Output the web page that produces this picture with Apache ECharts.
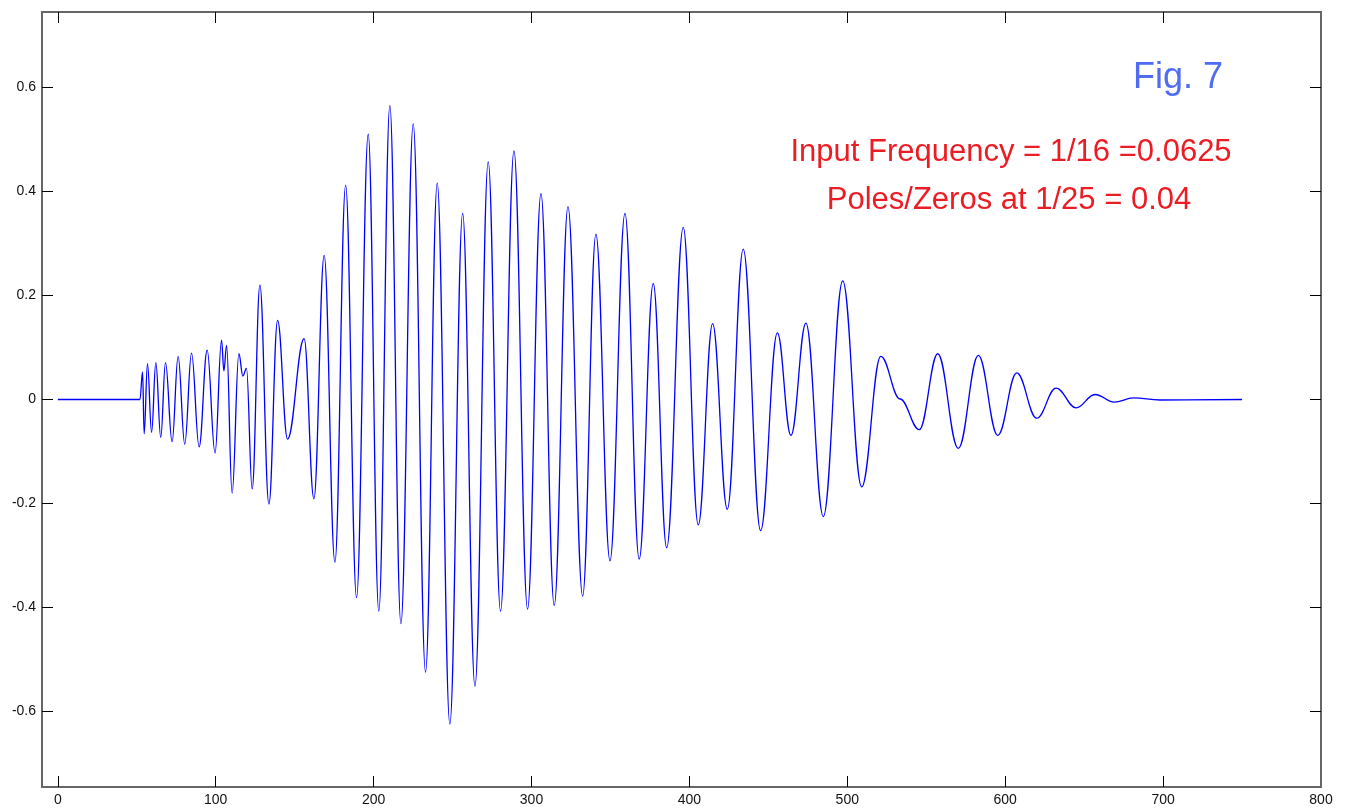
<!DOCTYPE html>
<html>
<head>
<meta charset="utf-8">
<script src="https://cdn.jsdelivr.net/npm/echarts@6/dist/echarts.min.js"></script>
<style>
html,body{margin:0;padding:0;background:#fff;}
#chart{width:1346px;height:808px;}
</style>
</head>
<body>
<div id="chart"></div>
<script>
// Sample index (x) and amplitude (y) of the waveform's turning points
const sampleX = [0, 52, 53.7, 54.7, 56.8, 59.4, 62.1, 65.2, 68.2, 72.4, 76.2, 80.4, 84.7, 89.5, 94.6, 99.6,
  103.7, 105.2, 106.9, 110.4, 114.7, 117.2, 119.5, 123.1, 128.0, 133.7, 139.2, 145.5, 156.0, 162.2,
  168.7, 175.5, 182.3, 189.2, 196.6, 203.3, 210.3, 217.3, 225.1, 232.9, 240.3, 248.3, 256.4, 264.2,
  272.6, 280.4, 288.9, 297.5, 306.0, 314.4, 323.1, 332.4, 340.8, 349.7, 359.2, 368.2, 377.1, 385.6,
  396.1, 405.6, 414.7, 424.0, 434.1, 445.1, 455.7, 464.3, 473.8, 484.8, 497.1, 509.1, 521.2, 533.4,
  545.6, 557.3, 570.3, 583.0, 595.3, 607.3, 620.0, 632.2, 644.9, 656.9, 669.0, 681.2, 698, 750];
const sampleY = [0, 0, 0.053, -0.066, 0.069, -0.063, 0.071, -0.073, 0.071, -0.081, 0.083, -0.086, 0.089, -0.091, 0.095, -0.103,
  0.114, 0.055, 0.104, -0.18, 0.088, 0.045, 0.06, -0.172, 0.22, -0.201, 0.152, -0.076, 0.117, -0.191,
  0.277, -0.313, 0.412, -0.381, 0.51, -0.407, 0.565, -0.431, 0.53, -0.524, 0.416, -0.624, 0.358, -0.551,
  0.457, -0.407, 0.478, -0.403, 0.396, -0.396, 0.371, -0.378, 0.318, -0.31, 0.358, -0.307, 0.223, -0.285,
  0.331, -0.241, 0.146, -0.211, 0.289, -0.252, 0.128, -0.069, 0.147, -0.225, 0.228, -0.168, 0.083, 0.001,
  -0.058, 0.088, -0.094, 0.085, -0.069, 0.051, -0.036, 0.022, -0.016, 0.0096, -0.005, 0.003, -0.001, 0];

const xTickLabels = [0, 100, 200, 300, 400, 500, 600, 700, 800];
const xTicks = [0, 100, 200, 300, 400, 500, 600, 700];
const yTickLabels = [-0.6, -0.4, -0.2, 0, 0.2, 0.4, 0.6];

const titleText = 'Fig. 7';
const noteLines = ['Input Frequency = 1/16 =0.0625', 'Poles/Zeros at 1/25 = 0.04'];

const data = sampleX.map((x, i) => [x, sampleY[i]]);

const FONT = '"Liberation Sans", Arial, sans-serif';
const frameLine = { show: true, onZero: false, lineStyle: { color: '#666', width: 2 } };
const tickStyle = { show: true, inside: true, length: 11, lineStyle: { color: '#000', width: 1 } };

const chart = echarts.init(document.getElementById('chart'), null, { renderer: 'canvas' });
chart.setOption({
  animation: false,
  backgroundColor: '#ffffff',
  grid: { left: 42, right: 25, top: 12, bottom: 21, containLabel: false },
  xAxis: [
    {
      type: 'value', position: 'bottom', min: -10, max: 800,
      axisLine: frameLine,
      axisTick: Object.assign({}, tickStyle, { customValues: xTicks }),
      axisLabel: { show: true, customValues: xTickLabels, margin: 6, fontSize: 14, color: '#111', fontFamily: FONT,
        formatter: v => String(v) },
      splitLine: { show: false }
    },
    {
      type: 'value', position: 'top', min: -10, max: 800,
      axisLine: frameLine,
      axisTick: Object.assign({}, tickStyle, { customValues: xTicks }),
      axisLabel: { show: false },
      splitLine: { show: false }
    }
  ],
  yAxis: [
    {
      type: 'value', position: 'left', min: -0.745, max: 0.745,
      axisLine: frameLine,
      axisTick: Object.assign({}, tickStyle, { customValues: yTickLabels }),
      axisLabel: { show: true, customValues: yTickLabels, margin: 6, fontSize: 14, color: '#111', fontFamily: FONT,
        formatter: v => (Math.round(v * 10) / 10).toString() },
      splitLine: { show: false }
    },
    {
      type: 'value', position: 'right', min: -0.745, max: 0.745,
      axisLine: frameLine,
      axisTick: Object.assign({}, tickStyle, { customValues: yTickLabels }),
      axisLabel: { show: false },
      splitLine: { show: false }
    }
  ],
  series: [{
    type: 'line',
    xAxisIndex: 0, yAxisIndex: 0,
    data: data,
    showSymbol: false,
    smooth: 0.4,
    smoothMonotone: 'x',
    lineStyle: { color: '#0000ff', width: 1.3 },
    z: 3
  }],
  graphic: [
    { type: 'text', style: { text: titleText, x: 1178, y: 78, textAlign: 'center', textVerticalAlign: 'middle',
      font: '36px ' + FONT, fill: '#4f6cf2' } },
    { type: 'text', style: { text: noteLines[0], x: 1011, y: 152, textAlign: 'center', textVerticalAlign: 'middle',
      font: '31px ' + FONT, fill: '#ec1c24' } },
    { type: 'text', style: { text: noteLines[1], x: 1009, y: 200, textAlign: 'center', textVerticalAlign: 'middle',
      font: '31px ' + FONT, fill: '#ec1c24' } }
  ]
});
</script>
</body>
</html>
